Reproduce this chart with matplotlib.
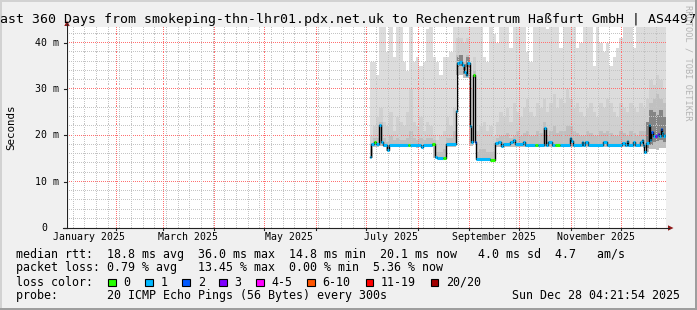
import numpy as np
import matplotlib
matplotlib.use('Agg')
import matplotlib.pyplot as plt
from matplotlib.lines import Line2D
from matplotlib.patches import Polygon, Rectangle
from matplotlib.transforms import blended_transform_factory

W, H = 697, 310
MONO = 'DejaVu Sans Mono'


def day(s):
    # days since 2025-01-01 00:00
    return (np.datetime64(s) - np.datetime64('2025-01-01T00:00:00')) / np.timedelta64(1, 'D')


t_start = day('2025-01-02T04:21:54')
t_end = day('2025-12-28T04:21:54')

title = "Last 360 Days from smokeping-thn-lhr01.pdx.net.uk to Rechenzentrum Haßfurt GmbH | AS4497"

month_labels = ['January 2025', 'March 2025', 'May 2025', 'July 2025', 'September 2025', 'November 2025']
month_label_dates = ['2025-01-16', '2025-03-16', '2025-05-16', '2025-07-16', '2025-09-16', '2025-11-16']
y_ticks = [0, 10, 20, 30, 40]
y_tick_labels = ['0', '10 m', '20 m', '30 m', '40 m']

# median rtt in ms, step changes (day since Jan 1, value, loss class)
med_day = [183.4, 184.0, 186.0, 187.2, 189.0, 189.8, 191.0, 193.6, 194.8, 206.0,
           207.2, 214.0, 215.2, 220.4, 222.5, 223.6, 227.4, 229.0, 234.8, 235.4,
           237.0, 238.6, 240.0, 241.0, 241.8, 243.6, 244.0, 245.2, 246.6, 247.2,
           255.4, 258.4, 260.2, 262.0, 263.2, 267.4, 269.4, 270.4, 275.4, 276.4,
           282.4, 284.4, 288.0, 288.8, 290.4, 292.4, 294.4, 297.4, 303.4, 304.2,
           305.2, 310.4, 311.4, 312.6, 314.4, 323.4, 325.4, 334.4, 336.4, 337.4,
           338.4, 341.4, 342.4, 345.4, 346.4, 347.4, 348.0, 348.8, 350.8, 351.4,
           352.2, 353.4, 354.4, 355.4, 356.2, 357.0, 357.8, 358.6, 359.4, 360.4]
med_ms = [15.4, 18.1, 18.6, 18.1, 22.3, 18.6, 18.0, 16.9, 18.0, 18.0,
          18.0, 17.6, 18.0, 18.2, 15.4, 15.1, 15.1, 18.1, 25.3, 35.6,
          36.0, 35.2, 33.8, 33.1, 35.6, 22.0, 18.5, 33.1, 18.6, 15.0,
          14.8, 18.3, 18.7, 17.7, 18.1, 18.7, 19.0, 18.1, 18.7, 18.0,
          18.0, 18.0, 21.6, 18.0, 18.7, 18.0, 18.0, 18.0, 19.4, 18.9,
          18.0, 18.7, 18.0, 18.5, 18.0, 18.5, 18.0, 18.4, 18.0, 18.9,
          18.0, 18.7, 18.0, 18.5, 19.0, 18.0, 16.5, 18.3, 22.3, 19.0,
          20.8, 19.8, 19.8, 20.1, 20.4, 19.9, 21.3, 20.6, 19.8, 20.1]
med_loss = [1, 1, 0, 1, 1, 1, 1, 1, 1, 0,
            1, 1, 1, 0, 1, 1, 0, 1, 1, 1,
            1, 1, 1, 1, 1, 1, 1, 0, 2, 1,
            0, 1, 1, 1, 1, 1, 1, 1, 1, 1,
            0, 1, 1, 1, 1, 1, 0, 1, 1, 1,
            1, 1, 1, 1, 1, 1, 1, 1, 1, 1,
            1, 1, 1, 1, 1, 1, 1, 1, 1, 1,
            2, 1, 3, 1, 3, 1, 2, 1, 1, 1]

# smoke: 2-day bins starting at day 183 (ms)
smoke_start = 183
smoke_lo = [15.2, 17.6, 17.6, 17.8, 17.6, 16.7, 17.6, 17.6, 17.6, 17.6,
            17.6, 17.6, 17.6, 17.6, 17.4, 17.6, 17.6, 17.6, 17.6, 15.2,
            14.9, 14.9, 14.9, 17.6, 17.6, 17.6, 33.0, 33.0, 32.5, 32.5,
            17.8, 32.5, 14.6, 14.6, 14.6, 14.6, 14.5, 14.5, 17.6, 17.6,
            17.6, 17.6, 17.6, 17.6, 17.6, 17.6, 17.6, 17.6, 17.6, 17.6,
            17.6, 17.6, 17.6, 17.6, 17.6, 17.6, 17.6, 17.6, 17.6, 17.6,
            17.6, 17.6, 17.6, 17.6, 17.6, 17.6, 17.6, 17.6, 17.6, 17.6,
            17.6, 17.6, 17.6, 17.6, 17.6, 17.6, 17.6, 17.6, 17.6, 17.6,
            17.6, 17.6, 17.4, 16.5, 17.0, 17.0, 16.8, 17.2, 17.2]
smoke_in = [17.0, 19.5, 19.5, 23.0, 19.5, 18.5, 20.0, 19.0, 19.5, 19.0,
            19.0, 19.5, 21.0, 19.5, 19.0, 19.5, 19.0, 19.5, 19.5, 19.0,
            16.5, 16.5, 17.0, 19.5, 19.5, 21.0, 37.5, 37.5, 36.0, 37.5,
            22.0, 34.0, 16.5, 17.0, 17.0, 16.5, 16.5, 16.5, 19.5, 20.0,
            20.0, 20.5, 19.5, 20.0, 21.0, 20.0, 20.5, 21.0, 20.0, 20.0,
            21.0, 20.5, 23.0, 20.0, 21.0, 22.0, 20.5, 21.0, 21.0, 22.0,
            22.0, 21.0, 20.5, 20.0, 20.0, 21.0, 20.5, 20.0, 20.0, 21.0,
            20.5, 21.0, 20.5, 20.0, 20.0, 21.0, 20.5, 20.0, 21.0, 20.5,
            20.0, 21.0, 21.0, 22.0, 27.0, 28.0, 29.0, 28.0, 27.0]
smoke_mid = [20, 22, 24, 26, 23, 22, 25, 21, 24, 23,
             22, 25, 30, 23, 22, 24, 21, 23, 22, 20,
             19, 20, 21, 24, 22, 26, 41, 41, 40, 41,
             30, 37, 21, 22, 23, 21, 22, 20, 23, 25,
             24, 26, 23, 27, 25, 24, 26, 28, 25, 24,
             27, 26, 28, 25, 27, 29, 26, 28, 27, 30,
             28, 26, 27, 25, 24, 26, 27, 25, 24, 27,
             26, 28, 27, 25, 24, 27, 26, 25, 27, 26,
             25, 27, 26, 28, 32, 31, 33, 32, 30]
smoke_top = [36, 36, 33, 44, 44, 38, 44, 37, 44, 44,
             36, 34, 44, 36, 37, 35, 36, 43, 44, 37,
             36, 33, 37, 37, 38, 44, 44, 44, 44, 44,
             44, 44, 44, 44, 37, 36, 44, 42, 40, 44,
             44, 44, 39, 44, 44, 44, 44, 38, 36, 44,
             44, 44, 44, 43, 44, 44, 44, 39, 44, 44,
             44, 44, 39, 40, 44, 44, 44, 35, 44, 40,
             38, 40, 35, 37, 39, 41, 44, 44, 44, 39,
             44, 44, 44, 44, 44, 44, 44, 44, 44]

# darker core of the smoke
dark_day = [235.4, 237.0, 239.0, 241.0, 243.6, 349.0, 351.0, 353.0, 355.0, 357.0, 359.0]
dark_lo = [34.8, 35.0, 33.2, 34.8, 0.0, 17.2, 18.0, 18.5, 18.8, 19.0, 18.5]
dark_hi = [37.0, 37.5, 35.5, 37.0, 0.0, 23.0, 25.5, 25.0, 24.5, 25.5, 24.0]

loss_labels = ['0', '1', '2', '3', '4-5', '6-10', '11-19', '20/20']
loss_colors = ['#26ff00', '#00b8ff', '#0059ff', '#7e00ff', '#ff00ff', '#ff5500', '#ff0000', '#a10000']

stats_rtt = "median rtt:  18.8 ms avg  36.0 ms max  14.8 ms min  20.1 ms now   4.0 ms sd  4.7   am/s"
stats_loss = "packet loss: 0.79 % avg   13.45 % max  0.00 % min  5.36 % now"
probe_line = "probe:       20 ICMP Echo Pings (56 Bytes) every 300s"
stamp = "Sun Dec 28 04:21:54 2025"


def fx(px):
    return px / W


def fy(py):
    return 1 - py / H


fig = plt.figure(figsize=(W / 100, H / 100), dpi=100, facecolor='#f0f0f0')

# 3d frame
fig.add_artist(Rectangle((0, 0), fx(2), 1, transform=fig.transFigure, color='#d2d2d2', lw=0))
fig.add_artist(Rectangle((0, fy(2)), 1, 2 / H, transform=fig.transFigure, color='#d2d2d2', lw=0))
fig.add_artist(Rectangle((fx(694.5), 0), 2.5 / W, 1, transform=fig.transFigure, color='#9e9e9e', lw=0))
fig.add_artist(Rectangle((0, 0), 1, 2.5 / H, transform=fig.transFigure, color='#9e9e9e', lw=0))

ax = fig.add_axes([fx(66.3), fy(228), 600 / W, 201 / H])
y_max = 201 / 4.625
ax.set_xlim(t_start, t_end)
ax.set_ylim(0, y_max)
ax.set_facecolor('white')
for s in ax.spines.values():
    s.set_visible(False)
ax.set_xticks([])
ax.set_yticks([])


def stepv(v):
    return np.append(v, v[-1])


edges = np.append(np.arange(smoke_start, 361, 2.0), t_end)
edges[0] = med_day[0]
ax.fill_between(edges, stepv(smoke_lo), stepv(smoke_top), step='post', color='#dcdcdc', lw=0, zorder=1)
ax.fill_between(edges, stepv(smoke_lo), stepv(smoke_mid), step='post', color='#d0d0d0', lw=0, zorder=1)
ax.fill_between(edges, stepv(smoke_lo), stepv(smoke_in), step='post', color='#c0c0c0', lw=0, zorder=1)
dedges = np.append(dark_day, t_end)
ax.fill_between(dedges, stepv(dark_lo), stepv(dark_hi), step='post', color='#858585', lw=0, zorder=1)

# grid as 1px dots every other pixel, like rrdtool
gx = t_start + np.arange(0.5, 600, 2) * (t_end - t_start) / 600
gy = np.arange(0.5, 201, 2) * y_max / 201
minor_col = '#c4c4c4'
major_col = '#ff7070'
month_starts = [day('2025-%02d-01' % m) for m in range(2, 13)]
mondays = np.arange(day('2025-01-06'), t_end, 7)
for v in np.arange(2, 44, 2):
    col = major_col if v % 10 == 0 else minor_col
    ax.plot(gx, np.full(len(gx), v), ls='none', marker=',', color=col, zorder=2)
for d in mondays:
    ax.plot(np.full(len(gy), d), gy, ls='none', marker=',', color=minor_col, zorder=2)
for d in month_starts:
    ax.plot(np.full(len(gy), d), gy, ls='none', marker=',', color=major_col, zorder=2)

# median line
md = np.append(med_day, t_end)
mv = np.append(med_ms, med_ms[-1])
ax.plot(md, mv, drawstyle='steps-post', color='black', lw=1.0, zorder=3)
for i in range(len(med_day)):
    ax.plot([md[i], md[i + 1]], [med_ms[i], med_ms[i]], color=loss_colors[med_loss[i]],
            lw=2.2, solid_capstyle='butt', zorder=4)

# axes lines and arrows
axis_col = '#222222'
arrow_col = '#8f1a1a'
fig.add_artist(Line2D([fx(67), fx(67)], [fy(228), fy(24)], color=axis_col, lw=0.8))
fig.add_artist(Line2D([fx(62.5), fx(669)], [fy(228), fy(228)], color=axis_col, lw=0.8))
fig.add_artist(Polygon([(fx(64.3), fy(26)), (fx(69.7), fy(26)), (fx(67), fy(20.5))],
                       closed=True, transform=fig.transFigure, color=arrow_col, lw=0))
fig.add_artist(Polygon([(fx(668), fy(225.3)), (fx(668), fy(230.7)), (fx(673.5), fy(228))],
                       closed=True, transform=fig.transFigure, color=arrow_col, lw=0))

bx = blended_transform_factory(ax.transData, fig.transFigure)
for d in month_starts:
    fig.add_artist(Line2D([d, d], [fy(228), fy(230)], transform=bx, color=axis_col, lw=0.8))

for v, lab in zip(y_ticks, y_tick_labels):
    ypix = 228 - v * 4.625
    fig.add_artist(Line2D([fx(64), fx(67)], [fy(ypix), fy(ypix)], color=axis_col, lw=0.8))
    xr = 47 if lab == '0' else 58.5
    fig.text(fx(xr), fy(ypix), lab, ha='right', va='center', family=MONO, fontsize=7.1)

for lab, ds in zip(month_labels, month_label_dates):
    fig.text(day(ds), fy(237.5), lab, transform=bx, ha='center', va='center', family=MONO, fontsize=7.1)

fig.text(fx(11), fy(127), 'Seconds', rotation=90, ha='center', va='center', family=MONO, fontsize=7.8)
fig.text(fx(-8), fy(19), title, ha='left', va='center', family=MONO, fontsize=9.57)
fig.text(fx(688), fy(5), 'RRDTOOL / TOBI OETIKER', rotation=270, ha='center', va='top',
         family=MONO, fontsize=6.2, color='#b4b4b4')

# legend
fs = 8.4
fig.text(fx(16), fy(254.3), stats_rtt, va='center', family=MONO, fontsize=fs)
fig.text(fx(16), fy(268), stats_loss, va='center', family=MONO, fontsize=fs)
fig.text(fx(16), fy(282.3), 'loss color:', va='center', family=MONO, fontsize=fs)
fig.text(fx(16), fy(295.7), probe_line, va='center', family=MONO, fontsize=fs)
fig.text(fx(680.5), fy(295.7), stamp, ha='right', va='center', family=MONO, fontsize=fs)

xb = 108.3
for lab, col in zip(loss_labels, loss_colors):
    fig.add_artist(Rectangle((fx(xb), fy(286.2)), 7.7 / W, 7.7 / H, transform=fig.transFigure,
                             facecolor=col, edgecolor='black', lw=0.8))
    fig.text(fx(xb + 15.3), fy(282.3), lab, va='center', family=MONO, fontsize=fs)
    xb += 15.3 + len(lab) * 7.02 + 14.7

fig.savefig('out.png', dpi=100, facecolor=fig.get_facecolor())
